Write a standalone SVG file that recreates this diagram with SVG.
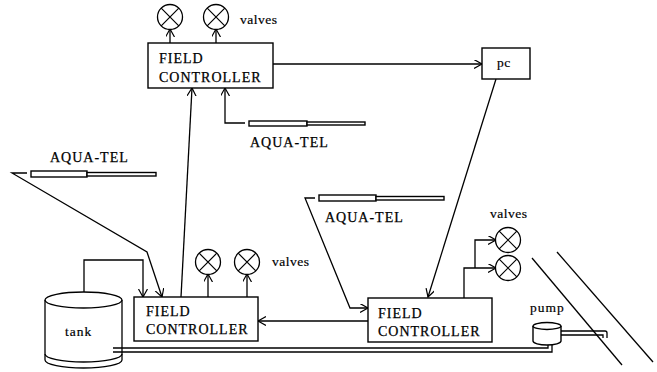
<svg xmlns="http://www.w3.org/2000/svg" width="657" height="372" viewBox="0 0 657 372">
<defs>
<marker id="arr" markerUnits="userSpaceOnUse" markerWidth="12" markerHeight="12" refX="8" refY="4.5" orient="auto">
<path d="M0,0 L8,4.5 L0,9" fill="none" stroke="#000" stroke-width="1.2"/>
</marker>
<g id="valve">
<circle cx="0" cy="0" r="12.5" fill="#fff" stroke="#000" stroke-width="1.3"/>
<path d="M-8.8,-8.8 L8.8,8.8 M-8.8,8.8 L8.8,-8.8" stroke="#000" stroke-width="1.2"/>
</g>
</defs>
<style>
.ln{fill:none;stroke:#000;stroke-width:1.3}
.box{fill:#fff;stroke:#000;stroke-width:1.4}
.t{font-family:"Liberation Serif",serif;font-size:14px;letter-spacing:1px;fill:#000;stroke:#000;stroke-width:0.25}
.s{font-family:"Liberation Serif",serif;font-size:13.5px;letter-spacing:0.5px;fill:#000;stroke:#000;stroke-width:0.2}
</style>
<rect width="657" height="372" fill="#fff"/>

<g id="connectors">
<path class="ln" d="M273,64 H482" marker-end="url(#arr)"/>
<path class="ln" d="M496,79 L428,297" marker-end="url(#arr)"/>
<path class="ln" d="M368,321 H258" marker-end="url(#arr)"/>
<path class="ln" d="M181,297 L192,88" marker-end="url(#arr)"/>
<path class="ln" d="M245,123 H225 V88" marker-end="url(#arr)"/>
<path class="ln" d="M27,173 H12 L147,252 L162,297" marker-end="url(#arr)"/>
<path class="ln" d="M315,198 H305 L350,308 H368" marker-end="url(#arr)"/>
<path class="ln" d="M84,292 V260 H143 V297" marker-end="url(#arr)"/>
<path class="ln" d="M170,43 V29" marker-end="url(#arr)"/>
<path class="ln" d="M216,43 V29" marker-end="url(#arr)"/>
<path class="ln" d="M208,297 V274" marker-end="url(#arr)"/>
<path class="ln" d="M247,297 V274" marker-end="url(#arr)"/>
<path class="ln" d="M464,298 V268 H496" marker-end="url(#arr)"/>
<path class="ln" d="M475,268 V240 H496" marker-end="url(#arr)"/>
<path class="ln" d="M113,348 H548 V345"/>
<path class="ln" d="M113,352 H552 V345"/>
<path class="ln" d="M561,331 H605 Q607,331 607,333 V338"/>
<path class="ln" d="M561,335 H603 V338"/>
</g>

<g id="canal">
<path class="ln" d="M532,258 L622,365"/>
<path class="ln" d="M557,252 L653,362"/>
</g>

<g id="fc-top">
<rect class="box" x="148" y="43" width="125" height="45"/>
<text class="t" x="159" y="63">FIELD</text>
<text class="t" x="159" y="82">CONTROLLER</text>
</g>
<g id="fc-left">
<rect class="box" x="134" y="297" width="124" height="44"/>
<text class="t" x="146" y="316">FIELD</text>
<text class="t" x="146" y="334">CONTROLLER</text>
</g>
<g id="fc-right">
<rect class="box" x="368" y="298" width="124" height="44"/>
<text class="t" x="378" y="318">FIELD</text>
<text class="t" x="378" y="336">CONTROLLER</text>
</g>
<g id="pc">
<rect class="box" x="482" y="48" width="48" height="31"/>
<text class="s" x="497" y="67">pc</text>
</g>

<g id="valves-top">
<use href="#valve" x="170" y="17"/>
<use href="#valve" x="216" y="17"/>
<text class="s" x="240" y="24">valves</text>
</g>
<g id="valves-left">
<use href="#valve" x="208" y="262"/>
<use href="#valve" x="247" y="262"/>
<text class="s" x="272" y="266">valves</text>
</g>
<g id="valves-right">
<use href="#valve" x="508" y="240"/>
<use href="#valve" x="508" y="268"/>
<text class="s" x="490" y="218">valves</text>
</g>

<g id="sensor-top">
<rect class="box" x="249" y="121" width="58" height="5" stroke-width="1.2"/>
<rect class="box" x="307" y="122" width="58" height="3" stroke-width="1.1"/>
<text class="t" x="250" y="147">AQUA-TEL</text>
</g>
<g id="sensor-left">
<rect class="box" x="31" y="171" width="56" height="6" stroke-width="1.2"/>
<rect class="box" x="87" y="172.5" width="69" height="3.5" stroke-width="1.1"/>
<text class="t" x="50" y="162">AQUA-TEL</text>
</g>
<g id="sensor-right">
<rect class="box" x="319" y="195" width="57" height="6" stroke-width="1.2"/>
<rect class="box" x="376" y="196.5" width="68" height="3.5" stroke-width="1.1"/>
<text class="t" x="325" y="222">AQUA-TEL</text>
</g>

<g id="tank">
<path class="ln" d="M45,300 V360 M122,300 V360"/>
<path class="ln" d="M45,354 A38.5,8 0 0 0 122,354"/>
<path class="ln" d="M45,360 A38.5,8 0 0 0 122,360"/>
<ellipse class="ln" cx="83.5" cy="300" rx="38.5" ry="8"/>
<text class="s" x="65" y="336" style="letter-spacing:1px">tank</text>
</g>

<g id="pump">
<path class="box" d="M533,326 V341 A14,4 0 0 0 561,341 V326"/>
<ellipse class="ln" cx="547" cy="326" rx="14" ry="3.5" fill="#fff"/>
<text class="s" x="530" y="312" style="letter-spacing:1px">pump</text>
</g>
</svg>
